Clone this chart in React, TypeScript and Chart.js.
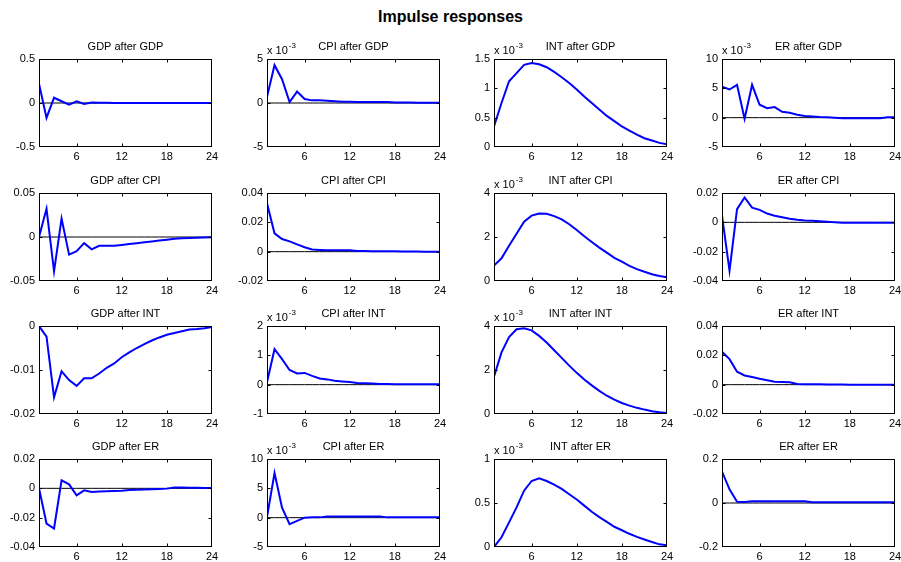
import React, { useEffect, useRef } from "react";
import { Chart, registerables } from "chart.js";
Chart.register(...registerables);

const periods = [1, 2, 3, 4, 5, 6, 7, 8, 9, 10, 11, 12, 13, 14, 15, 16, 17, 18, 19, 20, 21, 22, 23, 24];
const xTickValues = [6, 12, 18, 24];

const gdpAfterGdp = [0.22, -0.17, 0.06, 0.02, -0.02, 0.02, -0.01, 0.005, 0.003, 0.002, 0.001, 0.001, 0, 0, 0, 0, 0, 0, 0, 0, 0, 0, 0, 0];
const cpiAfterGdp = [0.7, 4.3, 2.7, 0.1, 1.3, 0.45, 0.3, 0.3, 0.25, 0.2, 0.15, 0.15, 0.12, 0.12, 0.1, 0.1, 0.1, 0.05, 0.05, 0.05, 0.03, 0.03, 0.02, 0.02];
const intAfterGdp = [0.35, 0.75, 1.12, 1.26, 1.4, 1.43, 1.41, 1.36, 1.28, 1.19, 1.09, 0.98, 0.86, 0.75, 0.64, 0.53, 0.44, 0.35, 0.28, 0.21, 0.15, 0.11, 0.07, 0.045];
const erAfterGdp = [5.3, 4.8, 5.6, -0.2, 5.6, 2.2, 1.6, 1.8, 1.0, 0.85, 0.5, 0.3, 0.2, 0.1, 0.05, 0, -0.1, -0.1, -0.1, -0.1, -0.1, -0.1, 0.05, 0.05];

const gdpAfterCpi = [0, 0.032, -0.039, 0.021, -0.02, -0.016, -0.007, -0.014, -0.01, -0.01, -0.01, -0.009, -0.008, -0.007, -0.006, -0.005, -0.004, -0.003, -0.002, -0.0015, -0.001, -0.0008, -0.0005, -0.0003];
const cpiAfterCpi = [0.033, 0.0125, 0.0086, 0.007, 0.005, 0.003, 0.0015, 0.0012, 0.001, 0.001, 0.001, 0.001, 0.0005, 0.0004, 0.0003, 0.0003, 0.0002, 0.0002, 0.0001, 0.0001, 0.0001, 0, 0, 0];
const intAfterCpi = [0.7, 1.03, 1.6, 2.15, 2.7, 2.97, 3.07, 3.06, 2.95, 2.8, 2.58, 2.32, 2.03, 1.77, 1.52, 1.29, 1.05, 0.88, 0.69, 0.54, 0.42, 0.31, 0.23, 0.17];
const erAfterCpi = [0.0046, -0.033, 0.009, 0.017, 0.01, 0.0085, 0.006, 0.0045, 0.0035, 0.0025, 0.0018, 0.0013, 0.001, 0.0007, 0.0004, 0.0001, -0.0003, -0.0003, -0.0003, -0.0003, -0.0003, -0.0003, -0.0003, -0.0002];

const gdpAfterInt = [0, -0.0024, -0.0162, -0.0103, -0.0123, -0.0136, -0.0119, -0.0119, -0.0108, -0.0095, -0.0085, -0.0071, -0.006, -0.005, -0.0041, -0.0033, -0.0026, -0.002, -0.0016, -0.0012, -0.0008, -0.0007, -0.0005, -0.0002];
const cpiAfterInt = [0.08, 1.21, 0.87, 0.5, 0.38, 0.4, 0.3, 0.21, 0.18, 0.13, 0.11, 0.09, 0.06, 0.05, 0.04, 0.02, 0.02, 0.01, 0.01, 0.01, 0.01, 0.01, 0.01, 0.01];
const intAfterInt = [1.7, 2.8, 3.5, 3.85, 3.9, 3.8, 3.55, 3.25, 2.9, 2.55, 2.2, 1.87, 1.57, 1.3, 1.05, 0.83, 0.65, 0.5, 0.38, 0.28, 0.2, 0.13, 0.08, 0.05];
const erAfterInt = [0.0224, 0.0174, 0.0088, 0.0063, 0.0052, 0.004, 0.003, 0.002, 0.0018, 0.0016, 0.0005, 0.0003, 0.0002, 0.0002, 0.0001, 0.0001, 0.0001, 0, 0, 0, 0, 0, 0, 0];

const gdpAfterEr = [0, -0.024, -0.0274, 0.0055, 0.0027, -0.0048, -0.0014, -0.0025, -0.0022, -0.002, -0.0018, -0.0016, -0.0012, -0.001, -0.0008, -0.0006, -0.0004, -0.0002, 0.0005, 0.0005, 0.0004, 0.0004, 0.0003, 0.0003];
const cpiAfterEr = [0.1, 7.6, 1.7, -1.1, -0.55, 0, 0.05, 0.05, 0.2, 0.2, 0.2, 0.2, 0.2, 0.2, 0.2, 0.2, 0.05, 0.05, 0.05, 0.05, 0.05, 0.05, 0.05, 0.05];
const intAfterEr = [0, 0.11, 0.28, 0.45, 0.64, 0.75, 0.78, 0.75, 0.71, 0.66, 0.6, 0.54, 0.47, 0.4, 0.34, 0.285, 0.23, 0.19, 0.15, 0.115, 0.085, 0.057, 0.03, 0.02];
const erAfterEr = [0.143, 0.062, 0.006, 0.005, 0.008, 0.008, 0.008, 0.008, 0.008, 0.008, 0.008, 0.008, 0.003, 0.003, 0.003, 0.003, 0.003, 0.003, 0.003, 0.003, 0.003, 0.003, 0.003, 0.003];

const panelTitles = [
  "GDP after GDP", "CPI after GDP", "INT after GDP", "ER after GDP",
  "GDP after CPI", "CPI after CPI", "INT after CPI", "ER after CPI",
  "GDP after INT", "CPI after INT", "INT after INT", "ER after INT",
  "GDP after ER", "CPI after ER", "INT after ER", "ER after ER",
];
const panelSeries = [
  gdpAfterGdp, cpiAfterGdp, intAfterGdp, erAfterGdp,
  gdpAfterCpi, cpiAfterCpi, intAfterCpi, erAfterCpi,
  gdpAfterInt, cpiAfterInt, intAfterInt, erAfterInt,
  gdpAfterEr, cpiAfterEr, intAfterEr, erAfterEr,
];
const panelYTicks = [
  [-0.5, 0, 0.5], [-5, 0, 5], [0, 0.5, 1, 1.5], [-5, 0, 5, 10],
  [-0.05, 0, 0.05], [-0.02, 0, 0.02, 0.04], [0, 2, 4], [-0.04, -0.02, 0, 0.02],
  [-0.02, -0.01, 0], [-1, 0, 1, 2], [0, 2, 4], [-0.02, 0, 0.02, 0.04],
  [-0.04, -0.02, 0, 0.02], [-5, 0, 5, 10], [0, 0.5, 1], [-0.2, 0, 0.2],
];
const panelExponents = [
  0, -3, -3, -3,
  0, 0, -3, 0,
  0, -3, -3, 0,
  0, -3, -3, 0,
];

const FONT = '"Liberation Sans", Arial, sans-serif';
const colLefts = [39, 267, 494, 722];
const rowTops = [59, 193, 326, 459];
const PLOT_W = 173;
const PLOT_H = 88;
const PAD_L = 5, AXIS_W = 40, PAD_R = 10, PAD_T = 28, AXIS_H = 20;

function fmt(v: number) {
  return parseFloat(v.toFixed(6)).toString();
}

const framePlugin = {
  id: "matlabFrame",
  afterDraw(chart: any, _args: any, opts: any) {
    const { ctx, chartArea } = chart;
    const l = Math.round(chartArea.left) + 0.5;
    const t = Math.round(chartArea.top) + 0.5;
    const r = Math.round(chartArea.right) - 0.5;
    const b = Math.round(chartArea.bottom) - 0.5;
    ctx.save();
    ctx.strokeStyle = "#000";
    ctx.lineWidth = 1;
    ctx.strokeRect(l, t, r - l, b - t);
    const tl = 3;
    ctx.beginPath();
    const xs = chart.scales.x;
    xTickValues.forEach((v) => {
      const px = Math.round(xs.getPixelForValue(v)) + 0.5;
      if (px >= r - 1) return;
      ctx.moveTo(px, b); ctx.lineTo(px, b - tl);
      ctx.moveTo(px, t); ctx.lineTo(px, t + tl);
    });
    const ys = chart.scales.y;
    (opts.yTicks as number[]).forEach((v) => {
      const py = Math.round(ys.getPixelForValue(v)) + 0.5;
      if (py <= t + 1 || py >= b - 1) return;
      ctx.moveTo(l, py); ctx.lineTo(l + tl, py);
      ctx.moveTo(r, py); ctx.lineTo(r - tl, py);
    });
    ctx.stroke();
    ctx.fillStyle = "#000";
    ctx.font = `11px ${FONT}`;
    ctx.textAlign = "center";
    ctx.textBaseline = "alphabetic";
    ctx.fillText(opts.title, (chartArea.left + chartArea.right) / 2, chartArea.top - 9);
    if (opts.exponent) {
      ctx.textAlign = "left";
      const base = "x 10";
      ctx.fillText(base, chartArea.left, chartArea.top - 5);
      const w = ctx.measureText(base).width;
      ctx.font = `8px ${FONT}`;
      ctx.fillText(String(opts.exponent), chartArea.left + w + 1, chartArea.top - 11);
    }
    ctx.restore();
  },
};

function Panel({ idx }: { idx: number }) {
  const ref = useRef<HTMLCanvasElement | null>(null);
  const row = Math.floor(idx / 4);
  const col = idx % 4;
  const cw = PAD_L + AXIS_W + PLOT_W + PAD_R;
  const ch = PAD_T + PLOT_H + AXIS_H;
  useEffect(() => {
    const values = panelSeries[idx];
    const yTicks = panelYTicks[idx];
    const chart = new Chart(ref.current as HTMLCanvasElement, {
      type: "line",
      data: {
        datasets: [
          {
            data: periods.map((x, i) => ({ x, y: values[i] })),
            borderColor: "#0000ff",
            borderWidth: 2,
            pointRadius: 0,
            tension: 0,
            fill: false,
          },
          {
            data: periods.map((x) => ({ x, y: 0 })),
            borderColor: "#000000",
            borderWidth: 1,
            pointRadius: 0,
            tension: 0,
            fill: false,
          },
        ],
      },
      options: {
        responsive: false,
        animation: false,
        devicePixelRatio: 1,
        events: [],
        layout: { padding: { left: PAD_L, right: PAD_R, top: PAD_T, bottom: 0 } },
        plugins: {
          legend: { display: false },
          tooltip: { enabled: false },
          title: { display: false },
          matlabFrame: { title: panelTitles[idx], exponent: panelExponents[idx], yTicks },
        } as any,
        scales: {
          x: {
            type: "linear",
            min: 1,
            max: 24,
            grid: { display: false, drawTicks: false },
            border: { display: false },
            ticks: { color: "#000", font: { family: FONT, size: 11 }, padding: 3, maxRotation: 0, autoSkip: false, callback: (v: any) => fmt(Number(v)) },
            afterBuildTicks: (s: any) => { s.ticks = xTickValues.map((v) => ({ value: v })); },
            afterFit: (s: any) => { s.height = AXIS_H; },
          },
          y: {
            type: "linear",
            min: yTicks[0],
            max: yTicks[yTicks.length - 1],
            grid: { display: false, drawTicks: false },
            border: { display: false },
            ticks: { color: "#000", font: { family: FONT, size: 11 }, padding: 4, autoSkip: false, callback: (v: any) => fmt(Number(v)) },
            afterBuildTicks: (s: any) => { s.ticks = yTicks.map((v) => ({ value: v })); },
            afterFit: (s: any) => { s.width = AXIS_W; },
          },
        },
      } as any,
      plugins: [framePlugin],
    });
    return () => chart.destroy();
  }, [idx]);
  return (
    <canvas
      ref={ref}
      width={cw}
      height={ch}
      style={{
        position: "absolute",
        left: colLefts[col] - PAD_L - AXIS_W,
        top: rowTops[row] - PAD_T,
        width: cw,
        height: ch,
        display: "block",
      }}
    />
  );
}

export default function App() {
  return (
    <div style={{ position: "absolute", left: 0, top: 0, width: 901, height: 562, background: "#fff", overflow: "hidden" }}>
      <div
        style={{
          position: "absolute",
          left: 0,
          top: 7,
          width: 901,
          lineHeight: "20px",
          textAlign: "center",
          fontFamily: FONT,
          fontWeight: "bold",
          fontSize: 16,
          color: "#000",
        }}
      >
        Impulse responses
      </div>
      {panelTitles.map((_, i) => (
        <Panel key={i} idx={i} />
      ))}
    </div>
  );
}
